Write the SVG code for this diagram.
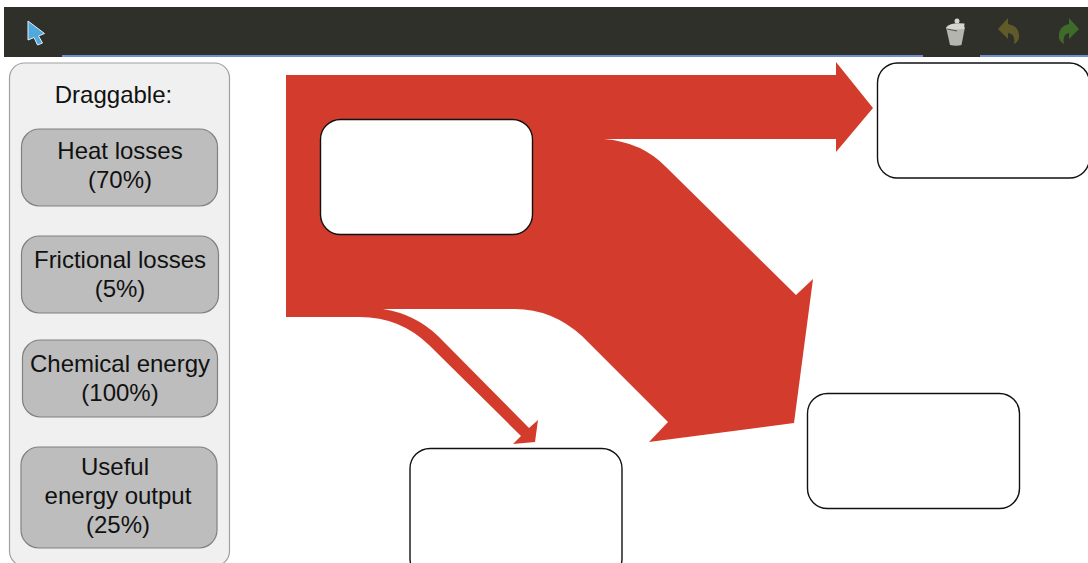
<svg xmlns="http://www.w3.org/2000/svg" width="1088" height="563" viewBox="0 0 1088 563">
<style>
.t{font-family:"Liberation Sans",Arial,sans-serif;font-size:24px;fill:#111;text-anchor:middle}
.box{fill:#fff;stroke:#111;stroke-width:1.4}
.chip{fill:#bdbdbd;stroke:#808080;stroke-width:1.2}
</style>
<rect width="1088" height="563" fill="#fff"/>
<g id="toolbar">
<rect x="4" y="7" width="1084" height="50" fill="#30302a"/>
<rect x="62" y="55" width="861" height="2" fill="#6f8fd0"/>
<rect x="980" y="55" width="108" height="2" fill="#6f8fd0"/>
<path id="pointer" d="M28 21L44.500 33.500L38.500 36L42.500 43L37.500 45L34 37.500L28 40Z" fill="#4fa9dc" stroke="#e6eef2" stroke-width="1"/>
<g id="trash">
<path d="M946 27L965 27L961.500 45Q956 46.500 950 45Z" fill="#b5b5b0"/>
<path d="M946.500 27Q950 22 964.500 23.500L964 29L947 30Z" fill="#d6d6d0"/>
<circle cx="957" cy="21" r="2.500" fill="#d6d6d0"/>
<path d="M947 29L957 31" stroke="#55554f" stroke-width="1.200"/>
</g>
<path id="undo" d="M998 29L1008 18L1008 24Q1020 26 1019 38Q1018 42 1014 44Q1016 34 1008 33L1008 39Z" fill="#5f5a28"/>
<path id="redo" d="M1079 29L1069 18L1069 24Q1058 26 1059 38Q1060 42 1064 44Q1062 34 1069 33L1069 39Z" fill="#3f6a2a"/>
</g>
<g id="connectors">
<path id="sankey" fill="#d33c2c" d="M286 75L836 75L836 62L873 108L836 152L836 139L604 139Q642 142 666 167L796 295L813 279L794 423L649 442L668 422L582 336Q552 309 515 309L383 309Q415 314 438 336L529 428L538 420L535 442L513 444L521 436L429 345Q400 317 360 317L286 317Z"/>
</g>
<g id="palette">
<rect x="9.500" y="63" width="220" height="503" rx="15" fill="#f0f0f0" stroke="#a0a0a0" stroke-width="1.2"/>
<text class="t" x="113.500" y="103">Draggable:</text>
</g>
<g id="chip-heat">
<rect class="chip" x="21.500" y="129" width="196" height="77" rx="18"/>
<text class="t" x="120" y="159">Heat losses</text>
<text class="t" x="120" y="188">(70%)</text>
</g>
<g id="chip-friction">
<rect class="chip" x="21.500" y="236" width="197" height="77" rx="18"/>
<text class="t" x="120" y="268">Frictional losses</text>
<text class="t" x="120" y="297">(5%)</text>
</g>
<g id="chip-chemical">
<rect class="chip" x="22.500" y="340" width="195" height="77" rx="18"/>
<text class="t" x="120" y="372">Chemical energy</text>
<text class="t" x="120" y="401">(100%)</text>
</g>
<g id="chip-useful">
<rect class="chip" x="21" y="447" width="196" height="101" rx="18"/>
<text class="t" x="115" y="475">Useful</text>
<text class="t" x="118" y="504">energy output</text>
<text class="t" x="118" y="533">(25%)</text>
</g>
<g id="box-source"><rect class="box" x="320.500" y="119.500" width="212" height="115" rx="20"/></g>
<g id="box-top"><rect class="box" x="877.500" y="63" width="212" height="115" rx="20"/></g>
<g id="box-right"><rect class="box" x="807.500" y="393.500" width="212" height="115" rx="20"/></g>
<g id="box-bottom"><rect class="box" x="410" y="448.500" width="212" height="130" rx="20"/></g>
</svg>
